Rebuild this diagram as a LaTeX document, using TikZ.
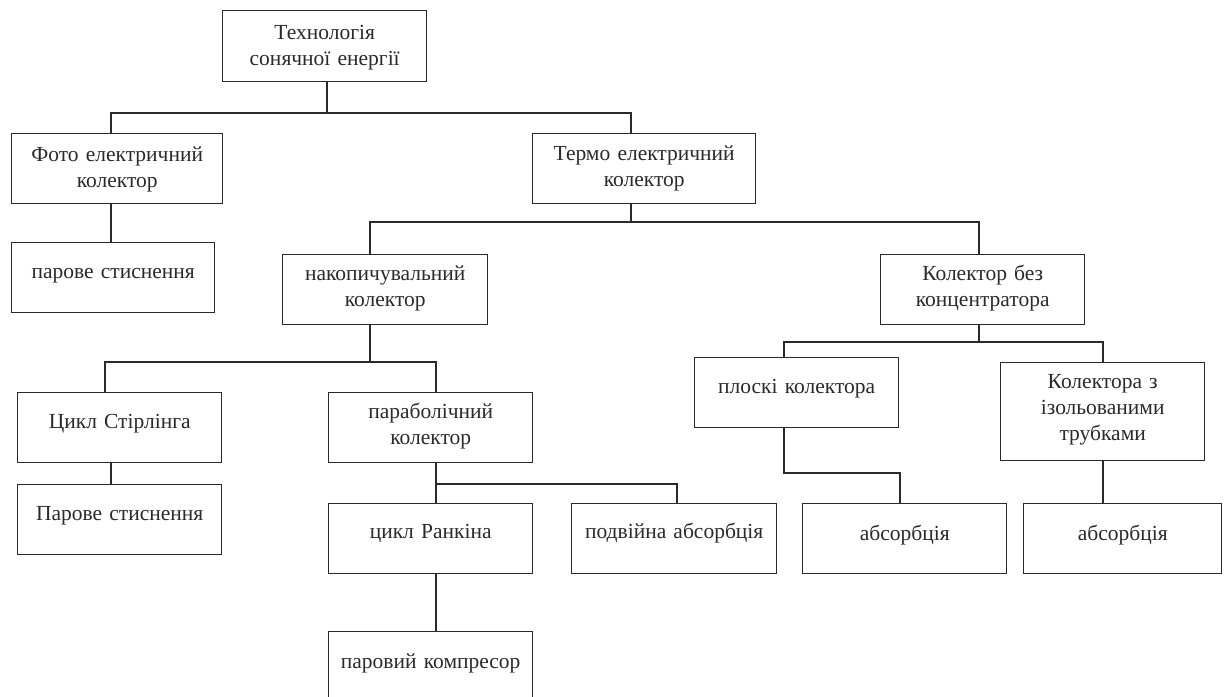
\documentclass[tikz,border=0pt]{standalone}
\usepackage{fontspec}
\setmainfont{Liberation Serif}
\definecolor{ink}{HTML}{2A2A2A}
\tikzset{
  box/.style={draw=ink, line width=1.4pt, inner sep=0pt, align=center, text=ink,
    font=\fontsize{21.5}{26}\selectfont, anchor=north west},
  conn/.style={draw=ink, line width=1.4pt}
}
% \bx{name}{xl}{xr}{ytop}{ybot}{first-baseline offset}{text}
\newcommand{\bx}[7]{%
  \pgfmathsetmacro{\bw}{#3-#2}%
  \pgfmathsetmacro{\bd}{#5-#4-#6}%
  \node[box, text width=\bw pt, text height=#6pt, text depth=\bd pt] (#1) at (#2,#4) {#7};}
\begin{document}
\begin{tikzpicture}[x=1pt,y=-1pt]
\useasboundingbox[fill=white] (0,0) rectangle (1225,696);
\bx{top}{222}{426}{10}{81}{29}{Технологія\\сонячної енергії}
\bx{foto}{11}{222}{133}{203}{28}{Фото електричний\\колектор}
\bx{termo}{532}{755}{133}{203}{27}{Термо електричний\\колектор}
\bx{parA}{11}{214}{242}{312}{36}{парове стиснення}
\bx{nakop}{282}{487}{254}{324}{26}{накопичувальний\\колектор}
\bx{bezk}{880}{1084}{254}{324}{26}{Колектор без\\концентратора}
\bx{stirl}{17}{221}{392}{462}{36}{Цикл Стірлінга}
\bx{parab}{328}{532}{392}{462}{26}{параболічний\\колектор}
\bx{plosk}{694}{898}{357}{427}{36}{плоскі колектора}
\bx{izol}{1000}{1204}{362}{460}{26}{Колектора з\\ізольованими\\трубками}
\bx{parB}{17}{221}{484}{554}{36}{Парове стиснення}
\bx{rank}{328}{532}{503}{573}{35}{цикл Ранкіна}
\bx{podv}{571}{776}{503}{573}{35}{подвійна абсорбція}
\bx{absA}{802}{1006}{503}{573}{37}{абсорбція}
\bx{absB}{1023}{1221}{503}{573}{37}{абсорбція}
\bx{kompr}{328}{532}{631}{702}{37}{паровий компресор}

% level 1
\coordinate (s1) at (327,113);
\coordinate (b1L) at (111,113);
\coordinate (b1R) at (631,113);
\draw[conn] (top.south -| s1) -- (s1);
\draw[conn] (foto.north -| b1L) -- (b1L) -- (b1R) -- (termo.north -| b1R);
% foto
\draw[conn] (foto.south -| b1L) -- (parA.north -| b1L);
% termo
\coordinate (b2L) at (370,222);
\coordinate (b2R) at (979,222);
\draw[conn] (termo.south -| b1R) -- (b1R |- b2L);
\draw[conn] (nakop.north -| b2L) -- (b2L) -- (b2R) -- (bezk.north -| b2R);
% nakop
\coordinate (b3L) at (105,362);
\coordinate (b3R) at (436,362);
\draw[conn] (nakop.south -| b2L) -- (b2L |- b3L);
\draw[conn] (stirl.north -| b3L) -- (b3L) -- (b3R) -- (parab.north -| b3R);
% stirling
\coordinate (c1) at (111,470);
\draw[conn] (stirl.south -| c1) -- (parB.north -| c1);
% parab
\coordinate (b4R) at (677,484);
\draw[conn] (parab.south -| b3R) -- (rank.north -| b3R);
\draw[conn] (b3R |- b4R) -- (b4R) -- (podv.north -| b4R);
% rankin
\draw[conn] (rank.south -| b3R) -- (kompr.north -| b3R);
% bez konc
\coordinate (b5L) at (784,342);
\coordinate (b5R) at (1103,342);
\draw[conn] (bezk.south -| b2R) -- (b2R |- b5L);
\draw[conn] (plosk.north -| b5L) -- (b5L) -- (b5R) -- (izol.north -| b5R);
% ploski
\coordinate (e1) at (784,473);
\coordinate (e2) at (900,473);
\draw[conn] (plosk.south -| e1) -- (e1) -- (e2) -- (absA.north -| e2);
% izol
\draw[conn] (izol.south -| b5R) -- (absB.north -| b5R);
\end{tikzpicture}
\end{document}
